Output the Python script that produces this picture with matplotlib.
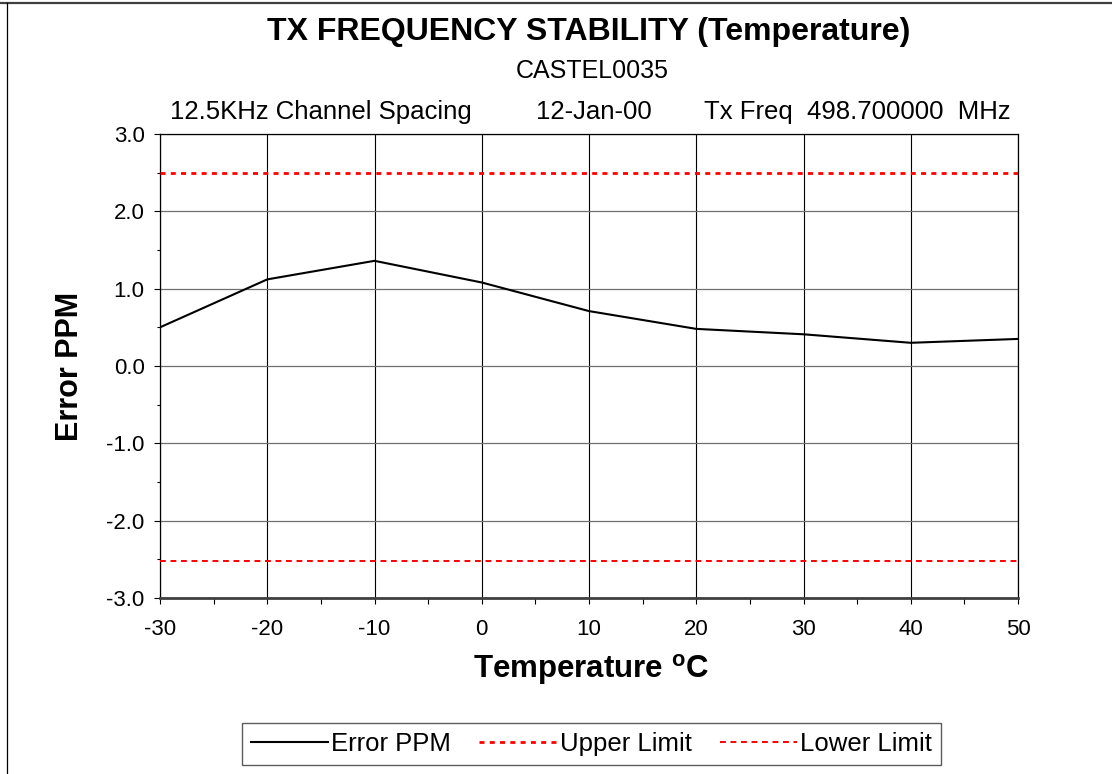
import matplotlib
matplotlib.use("Agg")
import matplotlib.pyplot as plt
from matplotlib.ticker import MultipleLocator, FormatStrFormatter
from matplotlib.lines import Line2D

plt.rcParams['font.family'] = ['Liberation Sans', 'DejaVu Sans']
plt.rcParams['axes.unicode_minus'] = False
plt.rcParams['mathtext.fontset'] = 'custom'
plt.rcParams['mathtext.rm'] = 'Liberation Sans'
plt.rcParams['mathtext.bf'] = 'Liberation Sans:bold'

# ---- data ----
temperature = [-30, -20, -10, 0, 10, 20, 30, 40, 50]
error_ppm = [0.50, 1.12, 1.36, 1.08, 0.71, 0.48, 0.41, 0.30, 0.35]
upper_limit = [2.50] * len(temperature)
lower_limit = [-2.52] * len(temperature)

title = "TX FREQUENCY STABILITY (Temperature)"
subtitle = "CASTEL0035"
info_left = "12.5KHz Channel Spacing"
info_mid = "12-Jan-00"
info_right = "Tx Freq  498.700000  MHz"

W, H = 1112, 774
fig = plt.figure(figsize=(W / 100, H / 100), dpi=100)
fig.patch.set_facecolor('white')

def fx(px):
    return px / W

def fy(py):
    return 1 - py / H

ax_l, ax_r, ax_t, ax_b = 160, 1018, 134, 598
ax = fig.add_axes([fx(ax_l), fy(ax_b), (ax_r - ax_l) / W, (ax_b - ax_t) / H])

ax.plot(temperature, error_ppm, color='black', lw=1.5, label='Error PPM', zorder=4)
ax.plot(temperature, upper_limit, color='#ff0000', lw=2.0, dashes=(1.8, 1.9),
        label='Upper Limit', zorder=3)
ax.plot(temperature, lower_limit, color='#ff0000', lw=1.4, dashes=(3.0, 2.4),
        label='Lower Limit', zorder=3)

ax.set_xlim(-30, 50)
ax.set_ylim(-3.0, 3.0)
ax.xaxis.set_major_locator(MultipleLocator(10))
ax.xaxis.set_minor_locator(MultipleLocator(5))
ax.yaxis.set_major_locator(MultipleLocator(1.0))
ax.yaxis.set_minor_locator(MultipleLocator(0.5))
ax.yaxis.set_major_formatter(FormatStrFormatter('%.1f'))

ax.grid(axis='y', which='major', color='#707070', lw=0.9)
ax.grid(axis='x', which='major', color='black', lw=0.8)
ax.set_axisbelow(True)

ax.tick_params(axis='y', which='major', direction='out', length=4, width=0.8,
               labelsize=16, pad=7)
ax.tick_params(axis='y', which='minor', direction='out', length=2.5, width=0.8)
ax.tick_params(axis='x', which='both', direction='out', length=4, width=0.8,
               labelsize=16, pad=11)

for side in ['left', 'top', 'right']:
    ax.spines[side].set_color('black')
    ax.spines[side].set_linewidth(0.9)
ax.spines['bottom'].set_color('#404040')
ax.spines['bottom'].set_linewidth(2.0)

ax.set_xlabel(r'Temperature $^{\mathbf{o}}$C', fontsize=22.5, fontweight='bold', va='baseline')
ax.xaxis.set_label_coords((591.5 - ax_l) / (ax_r - ax_l), (ax_b - 678) / (ax_b - ax_t))
ax.set_ylabel('Error PPM', fontsize=22, fontweight='bold', va='center')
ax.yaxis.set_label_coords((70 - ax_l) / (ax_r - ax_l), 0.5)

# titles
fig.text(fx(588.5), fy(40), title, fontsize=23, fontweight='bold', ha='center', va='baseline')
fig.text(fx(592), fy(78), subtitle, fontsize=18, ha='center', va='baseline')
fig.text(fx(321), fy(119), info_left, fontsize=18.5, ha='center', va='baseline')
fig.text(fx(593.5), fy(119), info_mid, fontsize=18.5, ha='center', va='baseline')
fig.text(fx(857.5), fy(119), info_right, fontsize=18.5, ha='center', va='baseline')

# legend
leg = fig.legend(loc='center', bbox_to_anchor=(fx(591.5), fy(744)), ncol=3,
                 fontsize=18.5, frameon=True, fancybox=False, edgecolor='#333333',
                 handlelength=3.0, handletextpad=0.12, columnspacing=1.1,
                 borderpad=0.35, borderaxespad=0)
leg.get_frame().set_linewidth(1.0)

# figure border (top and left)
fig.add_artist(Line2D([0, 1], [fy(3), fy(3)], color='#404040', lw=1.6, transform=fig.transFigure))
fig.add_artist(Line2D([fx(6.5), fx(6.5)], [fy(3), 0], color='black', lw=0.9, transform=fig.transFigure))

fig.savefig('out.png', dpi=100)
